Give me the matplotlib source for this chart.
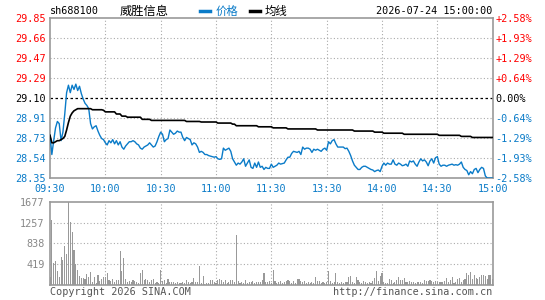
import matplotlib
matplotlib.use("Agg")
import matplotlib.pyplot as plt
import numpy as np

code = "sh688100"
name = "威胜信息"
stamp = "2026-07-24 15:00:00"
preclose = 29.10
top_price = 29.85

price = [
    28.75, 28.57, 28.70, 28.82, 28.88, 28.86, 28.70, 28.78, 28.95, 29.15,
    29.22, 29.15, 29.22, 29.18, 29.23, 29.17, 29.21, 29.14, 29.09, 29.05,
    29.03, 29.00, 28.86, 28.81, 28.83, 28.84, 28.79, 28.75, 28.72, 28.71,
    28.68, 28.66, 28.70, 28.68, 28.71, 28.67, 28.70, 28.66, 28.69, 28.64,
    28.62, 28.65, 28.67, 28.69, 28.69, 28.70, 28.69, 28.67, 28.66, 28.63,
    28.62, 28.64, 28.65, 28.66, 28.68, 28.66, 28.64, 28.65, 28.69, 28.74,
    28.78, 28.76, 28.69, 28.71, 28.72, 28.80, 28.78, 28.76, 28.77, 28.79,
    28.78, 28.78, 28.73, 28.70, 28.73, 28.72, 28.71, 28.66, 28.68, 28.67,
    28.64, 28.59, 28.60, 28.59, 28.57, 28.57, 28.56, 28.555, 28.55, 28.545,
    28.55, 28.53, 28.525, 28.53, 28.63, 28.61, 28.62, 28.63, 28.60, 28.53,
    28.50, 28.47, 28.49, 28.48, 28.50, 28.53, 28.46, 28.49, 28.52, 28.45,
    28.44, 28.49, 28.45, 28.50, 28.45, 28.46, 28.43, 28.45, 28.44, 28.44,
    28.48, 28.45, 28.46, 28.47, 28.49, 28.48, 28.485, 28.49, 28.52, 28.545,
    28.545, 28.58, 28.60, 28.595, 28.59, 28.60, 28.57, 28.64, 28.62, 28.63,
    28.63, 28.62, 28.59, 28.62, 28.61, 28.62, 28.61, 28.60, 28.62, 28.63,
    28.61, 28.69, 28.67, 28.70, 28.71, 28.67, 28.64, 28.64, 28.64, 28.64,
    28.625, 28.63, 28.60, 28.56, 28.51, 28.47, 28.45, 28.43, 28.43, 28.45,
    28.46, 28.46, 28.45, 28.44, 28.43, 28.425, 28.41, 28.42, 28.425, 28.41,
    28.46, 28.49, 28.47, 28.49, 28.48, 28.48, 28.52, 28.48, 28.47, 28.49,
    28.48, 28.465, 28.47, 28.48, 28.46, 28.51, 28.50, 28.51, 28.48, 28.46,
    28.50, 28.53, 28.51, 28.52, 28.50, 28.465, 28.51, 28.53, 28.49, 28.54,
    28.55, 28.48, 28.46, 28.47, 28.47, 28.46, 28.47, 28.475, 28.48, 28.47,
    28.475, 28.47, 28.48, 28.50, 28.45, 28.43, 28.42, 28.38, 28.41, 28.39,
    28.43, 28.44, 28.40, 28.43, 28.45, 28.44, 28.37, 28.35, 28.35, 28.35,
    28.35,
]

avg_price = [
    28.75, 28.68, 28.68, 28.69, 28.70, 28.70, 28.71, 28.72, 28.74, 28.80,
    28.87, 28.93, 28.96, 28.98, 28.99, 29.00, 29.00, 29.00, 29.00, 29.00,
    29.00, 29.00, 29.00, 28.99, 28.99, 28.99, 28.99, 28.99, 28.99, 28.985,
    28.97, 28.97, 28.97, 28.97, 28.97, 28.97, 28.95, 28.95, 28.95, 28.93,
    28.93, 28.93, 28.92, 28.92, 28.92, 28.92, 28.92, 28.92, 28.92, 28.92,
    28.90, 28.90, 28.90, 28.90, 28.90, 28.89, 28.89, 28.89, 28.89, 28.89,
    28.89, 28.89, 28.89, 28.89, 28.89, 28.89, 28.89, 28.89, 28.89, 28.89,
    28.89, 28.89, 28.89, 28.89, 28.88, 28.88, 28.88, 28.88, 28.88, 28.88,
    28.88, 28.88, 28.875, 28.875, 28.875, 28.875, 28.875, 28.875, 28.875, 28.875,
    28.875, 28.865, 28.865, 28.865, 28.865, 28.865, 28.865, 28.865, 28.865, 28.855,
    28.855, 28.84, 28.84, 28.84, 28.84, 28.84, 28.84, 28.84, 28.84, 28.84,
    28.84, 28.84, 28.84, 28.83, 28.83, 28.83, 28.83, 28.83, 28.83, 28.83,
    28.83, 28.82, 28.82, 28.82, 28.82, 28.82, 28.82, 28.82, 28.82, 28.81,
    28.81, 28.81, 28.81, 28.81, 28.81, 28.81, 28.81, 28.81, 28.81, 28.81,
    28.81, 28.81, 28.81, 28.81, 28.81, 28.80, 28.80, 28.80, 28.80, 28.80,
    28.80, 28.80, 28.80, 28.80, 28.80, 28.80, 28.80, 28.80, 28.80, 28.80,
    28.80, 28.80, 28.80, 28.80, 28.80, 28.79, 28.79, 28.79, 28.79, 28.79,
    28.79, 28.79, 28.79, 28.79, 28.79, 28.79, 28.78, 28.78, 28.78, 28.78,
    28.78, 28.77, 28.77, 28.77, 28.77, 28.77, 28.77, 28.77, 28.77, 28.77,
    28.77, 28.77, 28.76, 28.76, 28.76, 28.76, 28.76, 28.76, 28.76, 28.76,
    28.76, 28.76, 28.76, 28.76, 28.76, 28.76, 28.76, 28.76, 28.76, 28.76,
    28.76, 28.75, 28.75, 28.75, 28.75, 28.75, 28.75, 28.75, 28.75, 28.75,
    28.75, 28.75, 28.75, 28.74, 28.74, 28.74, 28.74, 28.74, 28.74, 28.73,
    28.73, 28.73, 28.73, 28.73, 28.73, 28.73, 28.73, 28.73, 28.73, 28.73,
    28.73,
]

volume = [
    168, 1308, 436, 483, 282, 168, 570, 503, 792, 617,
    1677, 1261, 1073, 704, 416, 302, 188, 134, 148, 121,
    221, 168, 268, 54, 168, 34, 201, 80, 114, 168,
    168, 235, 100, 87, 121, 54, 100, 100, 684, 282,
    550, 121, 54, 80, 67, 100, 80, 54, 34, 235,
    302, 100, 121, 100, 54, 100, 114, 34, 54, 40,
    302, 80, 100, 34, 121, 54, 67, 54, 34, 54,
    40, 40, 54, 34, 100, 54, 34, 54, 148, 54,
    54, 389, 34, 188, 27, 34, 34, 100, 100, 67,
    34, 100, 121, 100, 54, 100, 34, 54, 100, 100,
    67, 1006, 80, 34, 54, 34, 100, 34, 54, 54,
    80, 34, 54, 54, 54, 100, 235, 54, 54, 80,
    34, 302, 80, 34, 54, 80, 34, 54, 80, 100,
    80, 34, 80, 34, 121, 121, 80, 54, 80, 34,
    54, 34, 54, 34, 168, 80, 80, 34, 54, 34,
    54, 282, 80, 34, 54, 235, 54, 34, 54, 34,
    54, 54, 168, 188, 54, 34, 168, 100, 54, 34,
    80, 54, 34, 54, 34, 80, 148, 282, 80, 188,
    235, 54, 34, 34, 121, 100, 34, 54, 100, 161,
    100, 100, 148, 54, 54, 80, 54, 54, 34, 54,
    54, 54, 34, 100, 80, 80, 100, 80, 54, 80,
    54, 67, 54, 54, 80, 148, 54, 100, 168, 34,
    54, 121, 134, 54, 100, 121, 235, 201, 255, 121,
    201, 148, 121, 168, 201, 201, 188, 121, 201, 201,
    121,
]

price_labels = ["28.35", "28.54", "28.73", "28.91", "29.10", "29.29", "29.47", "29.66", "29.85"]
pct_labels = ["-2.58%", "-1.93%", "-1.29%", "-0.64%", "0.00%", "+0.64%", "+1.29%", "+1.93%", "+2.58%"]
time_labels = ["09:30", "10:00", "10:30", "11:00", "11:30", "13:30", "14:00", "14:30", "15:00"]
vol_labels = ["419", "838", "1257", "1677"]
vol_max = 1677

BLUE = "#0a7bc8"
RED = "#ff0000"
GRAY = "#999999"
GRID = "#aaaaaa"
MONO = "DejaVu Sans Mono"
CJK = ["Noto Sans CJK SC", "DejaVu Sans"]

W, H = 545, 300
fig = plt.figure(figsize=(W / 100, H / 100), dpi=100)
fig.patch.set_facecolor("white")

L, R = 50, 492.7
ax = fig.add_axes([L / W, 1 - 178 / H, (R - L) / W, 160 / H])
axv = fig.add_axes([L / W, 1 - 285 / H, (R - L) / W, 83.3 / H])

n = len(price)
x = np.arange(n)
half = top_price - preclose
levels = preclose + np.arange(-4, 5) * half / 4

for a in (ax, axv):
    a.set_xlim(0, n - 1)
    for s in a.spines.values():
        s.set_color(GRAY)
        s.set_linewidth(1.2)
    a.tick_params(length=0)
    for k in range(1, 8):
        a.axvline(k * 30, color=GRID, lw=0.8, ls=(0, (1, 2)), zorder=0)

ax.set_ylim(levels[0], levels[-1])
for i, lv in enumerate(levels[1:-1], start=1):
    if i == 4:
        ax.axhline(lv, color="black", lw=0.9, ls=(0, (2, 2)), zorder=1)
    else:
        ax.axhline(lv, color=GRID, lw=0.8, ls=(0, (1, 2)), zorder=0)

ax.plot(x, price, color=BLUE, lw=1.0, zorder=3)
ax.plot(x, avg_price, color="black", lw=1.2, zorder=4)

def lvl_color(i):
    return RED if i > 4 else ("black" if i == 4 else BLUE)

ax.set_yticks(levels)
ax.set_yticklabels(price_labels, fontfamily=MONO, fontsize=7.3)
for i, t in enumerate(ax.get_yticklabels()):
    t.set_color(lvl_color(i))
ax.tick_params(axis="y", pad=3)

axr = ax.twinx()
axr.set_ylim(levels[0], levels[-1])
axr.set_yticks(levels)
axr.set_yticklabels(pct_labels, fontfamily=MONO, fontsize=7.3)
for i, t in enumerate(axr.get_yticklabels()):
    t.set_color(lvl_color(i))
axr.tick_params(length=0, pad=2)
for s in axr.spines.values():
    s.set_visible(False)

ax.set_xticks(np.arange(0, n, 30))
ax.set_xticklabels(time_labels, fontfamily=MONO, fontsize=7.3, color=BLUE)
ax.tick_params(axis="x", pad=4)

axv.bar(x, volume, width=0.6, color=GRAY, zorder=2)
axv.set_ylim(0, vol_max)
vticks = [int(v) for v in vol_labels]
for v in vticks[:-1]:
    axv.axhline(v, color=GRID, lw=0.8, ls=(0, (1, 2)), zorder=0)
axv.set_yticks(vticks)
axv.set_yticklabels(vol_labels, fontfamily=MONO, fontsize=7.3, color="#888888")
axv.set_xticks([])
axv.tick_params(axis="y", pad=4)

ty = 1 - 11 / H
fig.text(L / W, ty, code, fontfamily=MONO, fontsize=7.3, va="center", ha="left")
fig.text(144 / W, ty, name, family=CJK, fontsize=8.8, va="center", ha="center")
fig.add_artist(plt.Line2D([200 / W, 210 / W], [ty, ty], color=BLUE, lw=2.5))
fig.text(216 / W, ty, "价格", family=CJK, fontsize=8.2, va="center", ha="left", color=BLUE)
fig.add_artist(plt.Line2D([250 / W, 260 / W], [ty, ty], color="black", lw=2.5))
fig.text(265 / W, ty, "均线", family=CJK, fontsize=8.2, va="center", ha="left", color="black")
fig.text(R / W, ty, stamp, fontfamily=MONO, fontsize=7.3, va="center", ha="right")

by = 1 - 292 / H
fig.text(L / W, by, "Copyright 2026 SINA.COM", fontfamily=MONO, fontsize=7.3,
         va="center", ha="left", color="#555555")
fig.text(R / W, by, "http://finance.sina.com.cn", fontfamily=MONO, fontsize=7.3,
         va="center", ha="right", color="#555555")

fig.savefig("out.png", dpi=100, facecolor="white")
